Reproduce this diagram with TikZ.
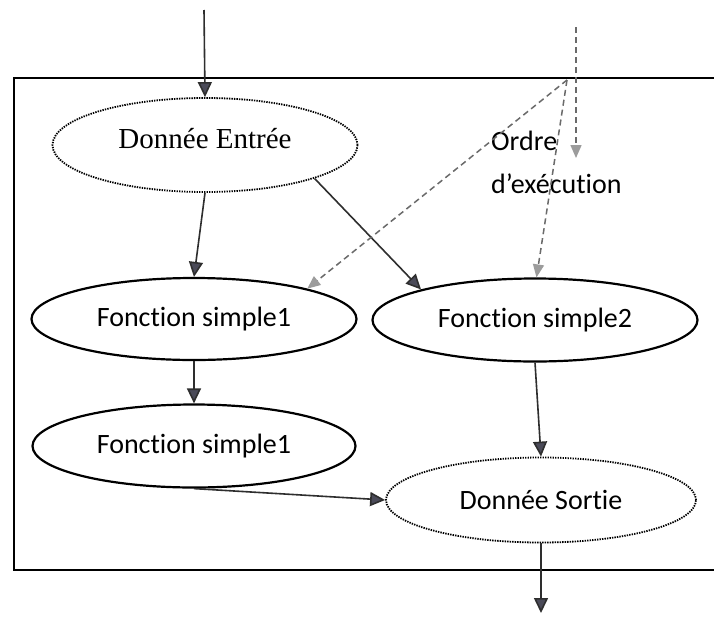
\documentclass[tikz,border=0pt]{standalone}
\usepackage{fontspec}
\setmainfont{Liberation Serif}
\newfontfamily\carl[Ligatures=NoCommon]{Carlito}
\usetikzlibrary{arrows.meta,shapes.geometric}
\definecolor{arrowdark}{HTML}{2E2E2E}
\definecolor{headdark}{HTML}{4A4A58}
\definecolor{orderline}{HTML}{6A6A6A}
\definecolor{orderhead}{HTML}{9C9C9C}
\tikzset{
  solidell/.style={ellipse, draw=black, line width=2.2pt, inner sep=0pt,
    font=\carl\fontsize{28}{32}\selectfont},
  dottedell/.style={ellipse, draw=black, line width=1.8pt,
    dash pattern=on 1.4pt off 1.1pt, inner sep=0pt},
  flow/.style={draw=arrowdark, line width=1.6pt,
    -{Triangle[length=15pt,width=14pt,color=arrowdark,fill=headdark]}},
  order/.style={draw=orderline, line width=1.5pt, dash pattern=on 6pt off 4pt,
    -{Triangle[length=13pt,width=11pt,color=orderhead,fill=orderhead]}},
  ordertext/.style={font=\carl\fontsize{28}{32}\selectfont, inner sep=0pt, anchor=base west},
  frame/.style={draw=black, line width=2pt}
}
\begin{document}
\begin{tikzpicture}[x=1pt,y=-1pt]
\clip (0,0) rectangle (714,616);
\fill[white] (0,0) rectangle (714,616);

% module boundary
\draw[frame] (14,78) rectangle (740,570);

% data and function nodes
\node[dottedell, minimum width=305pt, minimum height=94pt,
      font=\fontsize{29}{33}\selectfont] (de) at (205,145) {\raisebox{14pt}{Donnée Entrée}};
\node[solidell, minimum width=325pt, minimum height=82pt] (f1) at (194,319) {Fonction simple1};
\node[solidell, minimum width=325pt, minimum height=83pt] (f2) at (535,320) {Fonction simple2};
\node[solidell, minimum width=323pt, minimum height=83pt] (f1b) at (194,446) {Fonction simple1};
\node[dottedell, minimum width=310pt, minimum height=85pt,
      font=\carl\fontsize{28}{32}\selectfont] (ds) at (541,500) {Donnée Sortie};

% execution order label
\node[ordertext] (ordre) at (491,150) {Ordre};
\node[ordertext] (exec) at (491,193) {d’exécution};

% free ends
\coordinate (in) at (204,10);
\coordinate (out) at (541,613);
\coordinate (otop) at (576,27);
\coordinate (oend) at (576,158);
\coordinate (osrc) at (567,80);

% data flow
\draw[flow] (in) -- (de.north);
\draw[flow] (de.south) -- (f1.north);
\draw[flow] (de.-17) -- (f2.165);
\draw[flow] (f1.south) -- (f1b.north);
\draw[flow] (f2.south) -- (ds.north);
\draw[flow] (f1b.south) -- (ds.west);
\draw[flow] (ds.south) -- (out);

% execution order
\draw[order] (otop) -- (oend);
\draw[order] (osrc) -- (f1.15);
\draw[order] (osrc) -- (f2.88);
\end{tikzpicture}
\end{document}
